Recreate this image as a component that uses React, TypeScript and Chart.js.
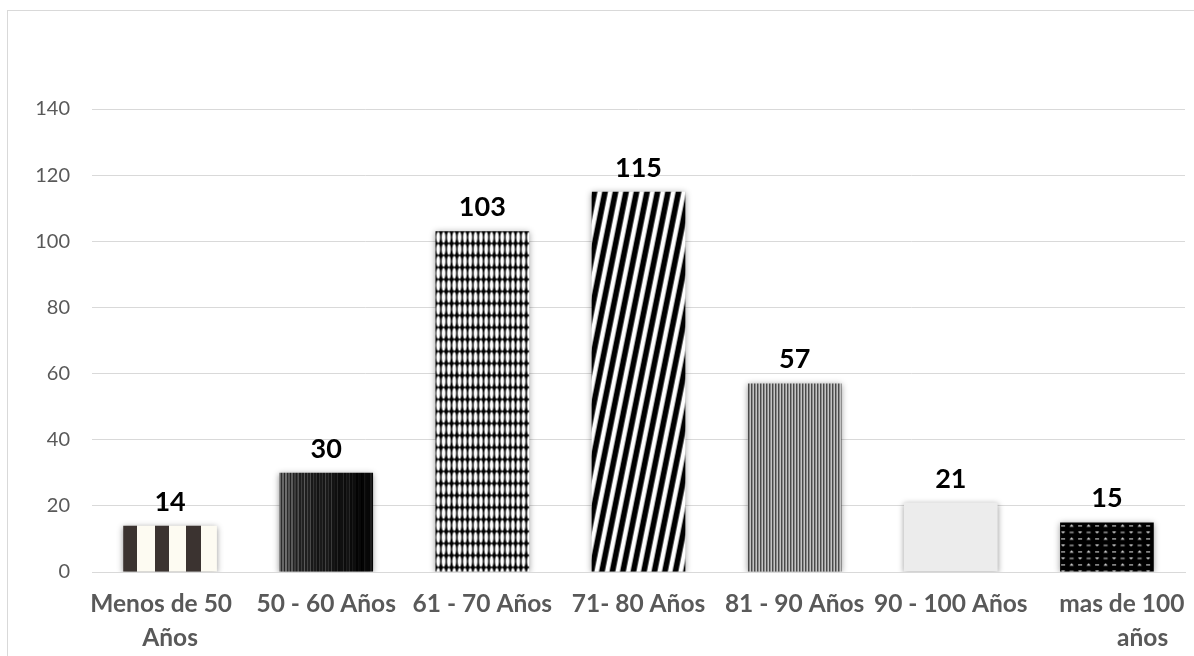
import React, { useEffect, useRef } from "react";
import { Chart, registerables } from "chart.js";

Chart.register(...registerables);

// ---------- data ----------
const categories: (string | string[])[] = [
  ["Menos de 50   ", "Años"],
  "50 - 60 Años",
  "61 - 70 Años",
  "71- 80 Años",
  "81 - 90 Años",
  "90 - 100 Años",
  ["     mas de 100", "            años"],
];
const values = [14, 30, 103, 115, 57, 21, 15];
const yMin = 0;
const yMax = 140;
const yStep = 20;

// ---------- style ----------
const BAR_PCT = 0.6;
const GRID = "#d9d9d9";
const TICK_GRAY = "#595959";
const FONT = "Lato, 'Open Sans', sans-serif";

function mkCanvas(w: number, h: number) {
  const c = document.createElement("canvas");
  c.width = w;
  c.height = h;
  return c;
}

let ovalTile: HTMLCanvasElement | null = null;
function getOvalTile() {
  if (ovalTile) return ovalTile;
  const W = 16, H = 12;
  const c = mkCanvas(W, H);
  const g = c.getContext("2d")!;
  g.fillStyle = "#000";
  g.fillRect(0, 0, W, H);
  g.fillStyle = "#fff";
  for (let k = 0; k < 3; k++) {
    g.beginPath();
    g.ellipse(W / 6 + (k * W) / 3, H / 2, 1.95, 5.6, 0, 0, Math.PI * 2);
    g.fill();
  }
  ovalTile = c;
  return c;
}

let diagTile: HTMLCanvasElement | null = null;
function getDiagTile() {
  if (diagTile) return diagTile;
  const W = 10.5, H = 52, B = 5.8;
  const c = mkCanvas(21, H);
  const g = c.getContext("2d")!;
  g.fillStyle = "#fff";
  g.fillRect(0, 0, 21, H);
  g.fillStyle = "#000";
  for (let xb = -3 * W; xb <= 3 * W; xb += W) {
    g.beginPath();
    g.moveTo(xb, H);
    g.lineTo(xb + B, H);
    g.lineTo(xb + B + W, 0);
    g.lineTo(xb + W, 0);
    g.closePath();
    g.fill();
  }
  diagTile = c;
  return c;
}

let fineTile: HTMLCanvasElement | null = null;
function getFineTile() {
  if (fineTile) return fineTile;
  const c = mkCanvas(3, 1);
  const g = c.getContext("2d")!;
  g.fillStyle = "#3e3e3e";
  g.fillRect(0, 0, 1, 1);
  g.fillStyle = "#767676";
  g.fillRect(1, 0, 1, 1);
  g.fillStyle = "#e6e6e6";
  g.fillRect(2, 0, 1, 1);
  fineTile = c;
  return c;
}

let dotTile: HTMLCanvasElement | null = null;
function getDotTile() {
  if (dotTile) return dotTile;
  const W = 17, H = 13;
  const c = mkCanvas(W, H);
  const g = c.getContext("2d")!;
  g.fillStyle = "#000";
  g.fillRect(0, 0, W, H);
  g.fillStyle = "#e8e8e8";
  const dash = (x: number, y: number) => g.fillRect(x - 2, y, 4, 1);
  const triUp = (x: number, y: number) => {
    g.beginPath();
    g.moveTo(x - 2.2, y + 1.2);
    g.lineTo(x + 2.2, y + 1.2);
    g.lineTo(x, y - 1);
    g.closePath();
    g.fill();
  };
  const triDown = (x: number, y: number) => {
    g.beginPath();
    g.moveTo(x - 2.2, y - 0.5);
    g.lineTo(x + 2.2, y - 0.5);
    g.lineTo(x, y + 1.5);
    g.closePath();
    g.fill();
  };
  dash(3, 3);
  triUp(11.5, 3);
  triDown(3, 9.5);
  dash(11.5, 9.5);
  dotTile = c;
  return c;
}

function tilePattern(ctx: CanvasRenderingContext2D, tile: HTMLCanvasElement, left: number, top: number) {
  const p = ctx.createPattern(tile, "repeat")!;
  p.setTransform(new DOMMatrix([1, 0, 0, 1, left, top]));
  return p;
}

function hex(v: number) {
  const n = Math.max(0, Math.min(255, Math.round(v)));
  const s = n.toString(16).padStart(2, "0");
  return "#" + s + s + s;
}

function makeFill(i: number, ctx: CanvasRenderingContext2D, left: number, top: number, w: number) {
  switch (i) {
    case 0: {
      const g = ctx.createLinearGradient(left, 0, left + w, 0);
      const stops = [0, 0.151, 0.338, 0.492, 0.672, 0.834, 1];
      const cols = ["#3b3330", "#fdfbf2"];
      for (let s = 0; s < stops.length - 1; s++) {
        const col = cols[s % 2];
        g.addColorStop(stops[s], col);
        g.addColorStop(Math.min(1, stops[s + 1] - 0.0001), col);
      }
      return g;
    }
    case 1: {
      const g = ctx.createLinearGradient(left, 0, left + w, 0);
      const N = 62;
      for (let k = 0; k < N; k++) {
        const t = k / N;
        const wob = Math.sin(k * 1.7) * 12 + Math.sin(k * 0.45) * 10;
        const light = k % 2 === 0;
        const base = light ? 105 - 100 * Math.pow(t, 0.8) + wob : 40 - 38 * t + wob * 0.3;
        const col = hex(base);
        g.addColorStop(t, col);
        g.addColorStop(Math.min(1, (k + 1) / N - 0.0001), col);
      }
      return g;
    }
    case 2:
      return tilePattern(ctx, getOvalTile(), left, top);
    case 3:
      return tilePattern(ctx, getDiagTile(), left, top);
    case 4:
      return tilePattern(ctx, getFineTile(), left, top);
    case 5:
      return "#ececec";
    default:
      return tilePattern(ctx, getDotTile(), left, top);
  }
}

const shadowPlugin = {
  id: "barShadow",
  beforeDatasetsDraw(chart: any) {
    const ctx = chart.ctx;
    ctx.save();
    ctx.shadowColor = "rgba(0,0,0,0.4)";
    ctx.shadowBlur = 6;
    ctx.shadowOffsetX = 0;
    ctx.shadowOffsetY = 1;
  },
  afterDatasetsDraw(chart: any) {
    chart.ctx.restore();
  },
};

const labelPlugin = {
  id: "valueLabels",
  afterDraw(chart: any) {
    const ctx = chart.ctx;
    const meta = chart.getDatasetMeta(0);
    ctx.save();
    ctx.font = `bold 27px ${FONT}`;
    ctx.fillStyle = "#000";
    ctx.textAlign = "center";
    ctx.textBaseline = "alphabetic";
    meta.data.forEach((bar: any, i: number) => {
      ctx.fillText(String(values[i]), bar.x, bar.y - 15);
    });
    ctx.restore();
  },
};

export default function App() {
  const ref = useRef<HTMLCanvasElement | null>(null);

  useEffect(() => {
    const canvas = ref.current;
    if (!canvas) return;
    const chart = new Chart(canvas, {
      type: "bar",
      data: {
        labels: categories as any,
        datasets: [
          {
            data: values,
            borderWidth: 0,
            categoryPercentage: 1,
            barPercentage: BAR_PCT,
            backgroundColor: (c: any) => {
              if (c.type !== "data") return "#000";
              const chart = c.chart;
              const xs = chart.scales.x;
              const ys = chart.scales.y;
              if (!xs || !ys || !xs.width) return "#000";
              const i = c.dataIndex;
              const w = (xs.width / categories.length) * BAR_PCT;
              const left = xs.getPixelForValue(i) - w / 2;
              const top = ys.getPixelForValue(values[i]);
              return makeFill(i, chart.ctx, left, top, w);
            },
          },
        ],
      },
      options: {
        responsive: false,
        animation: false,
        devicePixelRatio: 1,
        layout: { padding: { left: 0, right: 9, top: 109, bottom: 0 } },
        plugins: {
          legend: { display: false },
          tooltip: { enabled: false },
          title: { display: false },
        },
        scales: {
          x: {
            grid: { display: false, drawTicks: false },
            border: { display: true, color: GRID, width: 1 },
            ticks: {
              color: TICK_GRAY,
              font: { family: FONT, size: 24.5, weight: "bold", lineHeight: 1.38 },
              padding: 15,
              maxRotation: 0,
              autoSkip: false,
            },
            afterFit: (s: any) => {
              s.height = 84;
              s.paddingLeft = 0;
              s.paddingRight = 0;
            },
          },
          y: {
            min: yMin,
            max: yMax,
            grid: { color: GRID, lineWidth: 1, drawTicks: false },
            border: { display: false },
            ticks: {
              stepSize: yStep,
              color: TICK_GRAY,
              font: { family: FONT, size: 20 },
              padding: 22,
            },
            afterFit: (s: any) => {
              s.width = 92;
              s.paddingTop = 0;
              s.paddingBottom = 0;
            },
          },
        },
      },
      plugins: [shadowPlugin, labelPlugin],
    });
    return () => chart.destroy();
  }, []);

  return (
    <div
      style={{
        position: "fixed",
        left: 0,
        top: 0,
        width: 1194,
        height: 656,
        overflow: "hidden",
        background: "#fff",
      }}
    >
      <div
        style={{
          position: "absolute",
          left: 7,
          top: 10,
          width: 1300,
          height: 800,
          border: "1px solid #d9d9d9",
          boxSizing: "border-box",
        }}
      />
      <canvas
        ref={ref}
        width={1194}
        height={656}
        style={{ position: "absolute", left: 0, top: 0, width: 1194, height: 656 }}
      />
    </div>
  );
}
